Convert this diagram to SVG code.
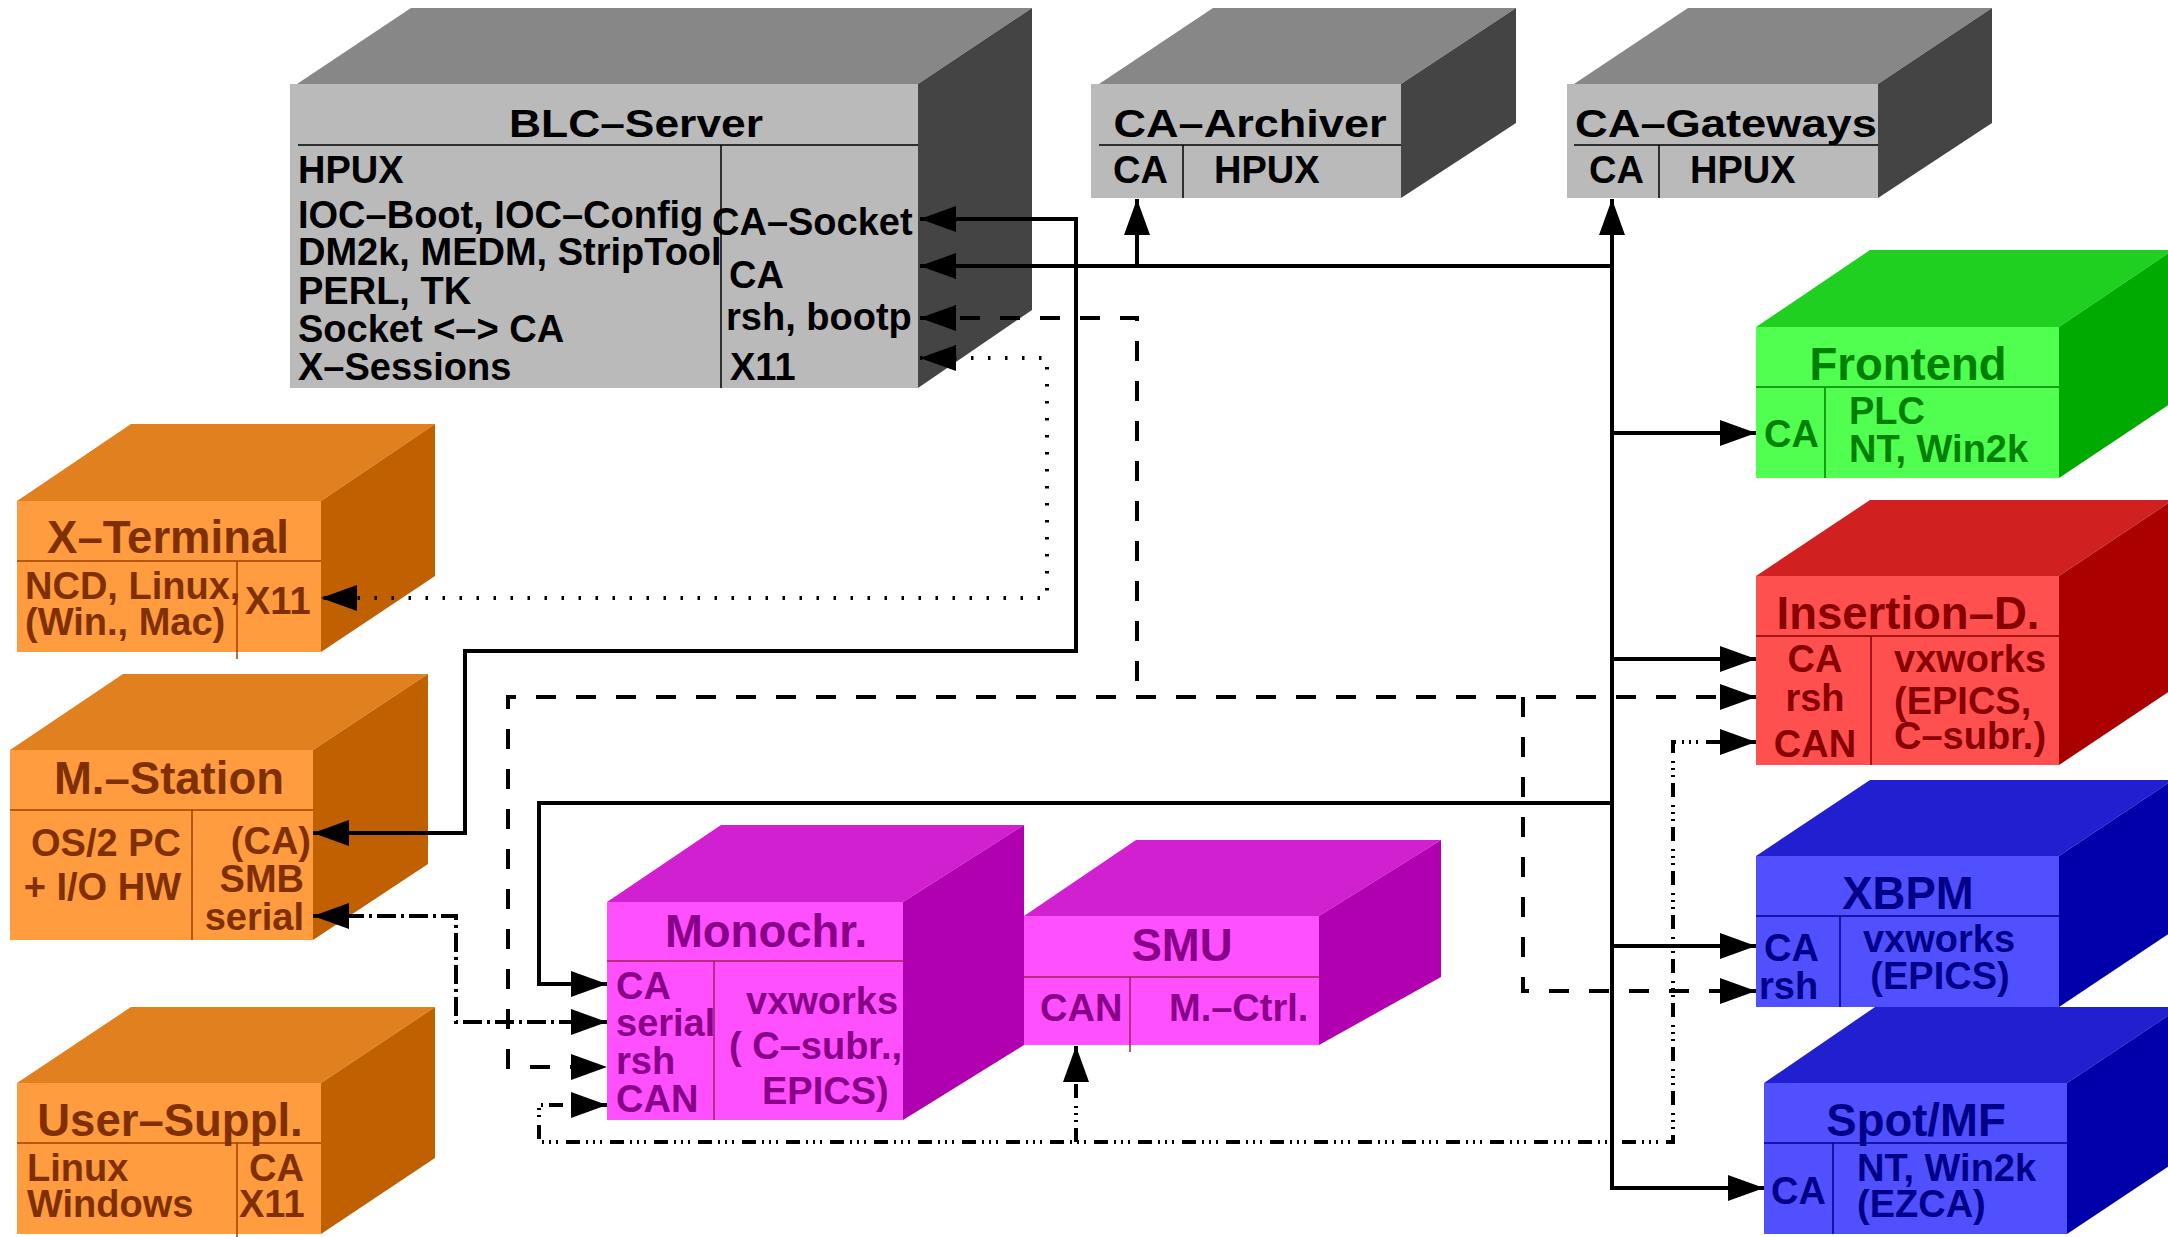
<svg xmlns="http://www.w3.org/2000/svg" width="2168" height="1237" viewBox="0 0 2168 1237">
<style>
text{font-family:"Liberation Sans",Arial,Helvetica,sans-serif;font-weight:bold;font-size:38px}
.h{font-size:45.5px;text-anchor:middle}
.g{font-size:39px;text-anchor:middle}
.m{text-anchor:middle}
.e{text-anchor:end}
.c{fill:none;stroke:#000;stroke-width:4}
.dash{stroke-dasharray:20 20}
.dot{stroke-dasharray:2.5 14.5}
.dd{stroke-dasharray:19 5 3 5}
.ddd{stroke-dasharray:14 6 2 5 2 5 2 8}
.grey .tp{fill:#878787}.grey .rt{fill:#444}.grey .fr{fill:#bababa}.grey text{fill:#000}.grey line{stroke:#000;stroke-width:1.5}
.org .tp{fill:#e0801e}.org .rt{fill:#c06000}.org .fr{fill:#ff9c40}.org text{fill:#803000}.org line{stroke:#a04000;stroke-width:1.5}
.grn .tp{fill:#20d020}.grn .rt{fill:#00aa00}.grn .fr{fill:#50ff50}.grn text{fill:#008000}.grn line{stroke:#008000;stroke-width:1.5}
.red .tp{fill:#d02020}.red .rt{fill:#aa0000}.red .fr{fill:#ff5050}.red text{fill:#880000}.red line{stroke:#880000;stroke-width:1.5}
.blu .tp{fill:#2020d0}.blu .rt{fill:#0000aa}.blu .fr{fill:#5050ff}.blu text{fill:#000088}.blu line{stroke:#000088;stroke-width:1.5}
.mag .tp{fill:#d020d0}.mag .rt{fill:#b000b0}.mag .fr{fill:#ff50ff}.mag text{fill:#880088}.mag line{stroke:#a02060;stroke-width:1.5}
</style>
<defs>
<marker id="a" viewBox="0 0 36 26" refX="36" refY="13" markerWidth="36" markerHeight="26" markerUnits="userSpaceOnUse" orient="auto-start-reverse"><path d="M0,0 L36,13 L0,26 z" fill="#000"/></marker>
</defs>

<g id="blc-server" class="grey">
<polygon class="tp" points="297,84 411,8 1032,8 918,84"/>
<polygon class="rt" points="918,84 1032,8 1032,310 918,388"/>
<rect class="fr" x="290" y="84" width="628" height="304"/>
<line x1="298" y1="145" x2="918" y2="145"/>
<line x1="721" y1="145" x2="721" y2="388"/>
<text class="g" x="636" y="137" textLength="254" lengthAdjust="spacingAndGlyphs">BLC–Server</text>
<text x="298" y="183">HPUX</text>
<text x="298" y="228">IOC–Boot, IOC–Config</text>
<text x="298" y="265">DM2k, MEDM, StripTool</text>
<text x="298" y="304">PERL, TK</text>
<text x="298" y="342">Socket &lt;–&gt; CA</text>
<text x="298" y="380">X–Sessions</text>
<text x="712" y="235">CA–Socket</text>
<text x="729" y="288">CA</text>
<text x="726" y="330">rsh, bootp</text>
<text x="730" y="380">X11</text>
</g>

<g id="ca-archiver" class="grey">
<polygon class="tp" points="1099,84 1213,8 1516,8 1401,84"/>
<polygon class="rt" points="1401,84 1516,8 1516,123 1401,198"/>
<rect class="fr" x="1091" y="84" width="310" height="114"/>
<line x1="1099" y1="145" x2="1401" y2="145"/>
<line x1="1183" y1="145" x2="1183" y2="198"/>
<text class="g" x="1250" y="137" textLength="273" lengthAdjust="spacingAndGlyphs">CA–Archiver</text>
<text x="1113" y="183">CA</text>
<text x="1214" y="183">HPUX</text>
</g>

<g id="ca-gateways" class="grey">
<polygon class="tp" points="1574,84 1688,8 1992,8 1878,84"/>
<polygon class="rt" points="1878,84 1992,8 1992,123 1878,198"/>
<rect class="fr" x="1567" y="84" width="311" height="114"/>
<line x1="1574" y1="145" x2="1878" y2="145"/>
<line x1="1659" y1="145" x2="1659" y2="198"/>
<text class="g" x="1726" y="137" textLength="302" lengthAdjust="spacingAndGlyphs">CA–Gateways</text>
<text x="1589" y="183">CA</text>
<text x="1690" y="183">HPUX</text>
</g>

<g id="frontend" class="grn">
<polygon class="tp" points="1756,327 1870,250 2173,250 2059,327"/>
<polygon class="rt" points="2059,327 2173,250 2173,402 2059,478"/>
<rect class="fr" x="1756" y="327" width="303" height="151"/>
<line x1="1756" y1="387" x2="2059" y2="387"/>
<line x1="1825" y1="387" x2="1825" y2="478"/>
<text class="h" x="1908" y="380">Frontend</text>
<text x="1764" y="447">CA</text>
<text x="1849" y="424">PLC</text>
<text x="1849" y="462">NT, Win2k</text>
</g>

<g id="insertion-d" class="red">
<polygon class="tp" points="1756,576 1870,500 2173,500 2059,576"/>
<polygon class="rt" points="2059,576 2173,500 2173,689 2059,765"/>
<rect class="fr" x="1756" y="576" width="303" height="189"/>
<line x1="1756" y1="636" x2="2059" y2="636"/>
<line x1="1871" y1="636" x2="1871" y2="765"/>
<text class="h" x="1908" y="629">Insertion–D.</text>
<text class="m" x="1815" y="672">CA</text>
<text class="m" x="1815" y="711">rsh</text>
<text class="m" x="1815" y="757">CAN</text>
<text x="1894" y="672">vxworks</text>
<text x="1894" y="714">(EPICS,</text>
<text x="1894" y="749">C–subr.)</text>
</g>

<g id="xbpm" class="blu">
<polygon class="tp" points="1756,856 1870,780 2173,780 2059,856"/>
<polygon class="rt" points="2059,856 2173,780 2173,931 2059,1007"/>
<rect class="fr" x="1756" y="856" width="303" height="151"/>
<line x1="1756" y1="916" x2="2059" y2="916"/>
<line x1="1840" y1="916" x2="1840" y2="1007"/>
<text class="h" x="1908" y="909">XBPM</text>
<text x="1764" y="961">CA</text>
<text x="1759" y="999">rsh</text>
<text class="m" x="1939" y="952">vxworks</text>
<text class="m" x="1940" y="989">(EPICS)</text>
</g>

<g id="spot-mf" class="blu">
<polygon class="tp" points="1764,1083 1875,1007 2181,1007 2067,1083"/>
<polygon class="rt" points="2067,1083 2181,1007 2181,1158 2067,1234"/>
<rect class="fr" x="1764" y="1083" width="303" height="151"/>
<line x1="1764" y1="1143" x2="2067" y2="1143"/>
<line x1="1833" y1="1143" x2="1833" y2="1234"/>
<text class="h" x="1916" y="1136">Spot/MF</text>
<text x="1771" y="1204">CA</text>
<text x="1857" y="1181">NT, Win2k</text>
<text x="1857" y="1217">(EZCA)</text>
</g>

<g id="x-terminal" class="org">
<polygon class="tp" points="17,501 131,424 435,424 321,501"/>
<polygon class="rt" points="321,501 435,424 435,576 321,652"/>
<rect class="fr" x="17" y="501" width="304" height="151"/>
<line x1="17" y1="561" x2="321" y2="561"/>
<line x1="237" y1="561" x2="237" y2="659"/>
<text class="h" x="168" y="553">X–Terminal</text>
<text x="25" y="599">NCD, Linux,</text>
<text x="25" y="635">(Win., Mac)</text>
<text x="245" y="614">X11</text>
</g>

<g id="m-station" class="org">
<polygon class="tp" points="10,750 123,674 428,674 313,750"/>
<polygon class="rt" points="313,750 428,674 428,864 313,940"/>
<rect class="fr" x="10" y="750" width="303" height="190"/>
<line x1="10" y1="810" x2="313" y2="810"/>
<line x1="192" y1="810" x2="192" y2="940"/>
<text class="h" x="169" y="794">M.–Station</text>
<text class="e" x="181" y="856">OS/2 PC</text>
<text class="e" x="181" y="900">+ I/O HW</text>
<text class="e" x="311" y="854">(CA)</text>
<text class="e" x="304" y="892">SMB</text>
<text class="e" x="304" y="930">serial</text>
</g>

<g id="user-suppl" class="org">
<polygon class="tp" points="17,1083 131,1007 435,1007 321,1083"/>
<polygon class="rt" points="321,1083 435,1007 435,1158 321,1234"/>
<rect class="fr" x="17" y="1083" width="304" height="151"/>
<line x1="17" y1="1143" x2="321" y2="1143"/>
<line x1="237" y1="1143" x2="237" y2="1237"/>
<text class="h" x="170" y="1136">User–Suppl.</text>
<text x="27" y="1181">Linux</text>
<text x="27" y="1217">Windows</text>
<text class="e" x="304" y="1181">CA</text>
<text x="239" y="1217">X11</text>
</g>

<g id="monochr" class="mag">
<polygon class="tp" points="607,902 721,825 1024,825 903,902"/>
<polygon class="rt" points="903,902 1024,825 1024,1045 903,1120"/>
<rect class="fr" x="607" y="902" width="296" height="218"/>
<line x1="607" y1="961" x2="903" y2="961"/>
<line x1="714" y1="961" x2="714" y2="1120"/>
<text class="h" x="766" y="947">Monochr.</text>
<text x="616" y="999">CA</text>
<text x="616" y="1036">serial</text>
<text x="616" y="1074">rsh</text>
<text x="616" y="1112">CAN</text>
<text x="746" y="1014">vxworks</text>
<text x="729" y="1059">( C–subr.,</text>
<text x="762" y="1104">EPICS)</text>
</g>

<g id="smu" class="mag">
<polygon class="tp" points="1024,916 1136,840 1441,840 1319,916"/>
<polygon class="rt" points="1319,916 1441,840 1441,977 1319,1045"/>
<rect class="fr" x="1024" y="916" width="295" height="129"/>
<line x1="1024" y1="977" x2="1319" y2="977"/>
<line x1="1130" y1="977" x2="1130" y2="1052"/>
<text class="h" x="1182" y="961">SMU</text>
<text x="1040" y="1021">CAN</text>
<text x="1169" y="1021">M.–Ctrl.</text>
</g>

<g id="connectors">
<path class="c" d="M920,219 H1076 V651 H465 V833 H313" marker-start="url(#a)" marker-end="url(#a)"/>
<path class="c" d="M920,266 H1612" marker-start="url(#a)"/>
<path class="c" d="M1137,266 V199" marker-end="url(#a)"/>
<path class="c" d="M1612,199 V1188 H1764" marker-start="url(#a)" marker-end="url(#a)"/>
<path class="c" d="M1612,433 H1756" marker-end="url(#a)"/>
<path class="c" d="M1612,659 H1756" marker-end="url(#a)"/>
<path class="c" d="M1612,803 H539 V984 H607" marker-end="url(#a)"/>
<path class="c" d="M1612,946 H1756" marker-end="url(#a)"/>
<path class="c dash" d="M920,318 H1137 V697" marker-start="url(#a)"/>
<path class="c dash" d="M1756,697 H508 V1067 H607" marker-start="url(#a)" marker-end="url(#a)"/>
<path class="c dash" d="M1523,697 V991 H1756" marker-end="url(#a)"/>
<path class="c dot" d="M920,358 H1047 V598 H321" marker-start="url(#a)" marker-end="url(#a)"/>
<path class="c dd" d="M313,916 H456 V1022 H607" marker-start="url(#a)" marker-end="url(#a)"/>
<path class="c ddd" d="M607,1105 H539 V1142 H1673 V742 H1756" marker-start="url(#a)" marker-end="url(#a)"/>
<path class="c ddd" d="M1076,1142 V1046" marker-end="url(#a)"/>
</g>
</svg>
